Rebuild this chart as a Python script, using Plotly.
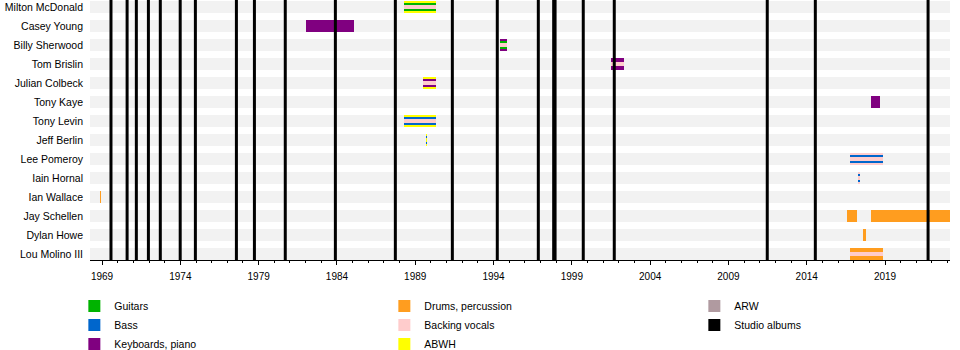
import plotly.graph_objects as go

# ---------------- data ----------------
members = ["Milton McDonald", "Casey Young", "Billy Sherwood", "Tom Brislin",
           "Julian Colbeck", "Tony Kaye", "Tony Levin", "Jeff Berlin",
           "Lee Pomeroy", "Iain Hornal", "Ian Wallace", "Jay Schellen",
           "Dylan Howe", "Lou Molino III"]

stint_member = ["Milton McDonald", "Casey Young", "Billy Sherwood", "Tom Brislin",
                "Julian Colbeck", "Tony Kaye", "Tony Levin", "Jeff Berlin",
                "Lee Pomeroy", "Iain Hornal", "Ian Wallace", "Jay Schellen",
                "Jay Schellen", "Dylan Howe", "Lou Molino III"]
stint_start = [1988.28, 1982.03, 1994.41, 2001.50, 1989.50, 2018.10, 1988.28, 1989.70,
               2016.77, 2017.30, 1968.87, 2016.55, 2018.10, 2017.57, 2016.77]
stint_end = [1990.33, 1985.09, 1994.86, 2002.33, 1990.33, 2018.68, 1990.33, 1989.75,
             2018.87, 2017.36, 1968.93, 2017.20, 2023.15, 2017.80, 2018.87]
stint_main = ["ABWH", "Keyboards, piano", "Keyboards, piano", "Keyboards, piano",
              "ABWH", "Keyboards, piano", "ABWH", "ABWH",
              "Backing vocals", "Backing vocals", "Drums, percussion", "Drums, percussion",
              "Drums, percussion", "Drums, percussion", "Drums, percussion"]
stint_stripe = ["Guitars", None, "Guitars", None,
                "Keyboards, piano", None, "Bass", "Bass",
                "Bass", "Bass", None, None,
                None, None, None]
stint_center = ["Backing vocals", None, "Backing vocals", "Backing vocals",
                "Backing vocals", None, "Backing vocals", "ABWH",
                "Backing vocals", "Backing vocals", None, None,
                None, None, "Backing vocals"]

album_dates = [1969.57, 1970.60, 1971.19, 1971.96, 1972.72, 1973.99, 1974.96,
               1977.58, 1978.73, 1980.70, 1983.90, 1987.73, 1991.37, 1994.24,
               1996.86, 1997.84, 1997.93, 1999.73, 2001.71, 2011.48, 2014.55, 2021.75]

legend_roles = ["Guitars", "Drums, percussion", "ARW",
                "Bass", "Backing vocals", "Studio albums",
                "Keyboards, piano", "ABWH"]

# ---------------- style ----------------
colors = {
    "Guitars": "#00b300",
    "Bass": "#0066cc",
    "Keyboards, piano": "#800080",
    "Drums, percussion": "#ff9d1f",
    "Backing vocals": "#ffcccc",
    "ABWH": "#ffff00",
    "ARW": "#b09aa0",
    "Studio albums": "#000000",
}
ROW_PX = 19.0
X0, X1 = 1968.23, 2023.15
Y_TOP = -7.0 / ROW_PX
Y_BOT = Y_TOP + 260.0 / ROW_PX
W_MAIN, W_STRIPE, W_CENTER = 12 / ROW_PX, 8 / ROW_PX, 4 / ROW_PX
FONT = "Liberation Sans, Arial, sans-serif"

yidx = {m: i for i, m in enumerate(members)}

fig = go.Figure()

# row background bands
fig.add_trace(go.Bar(
    orientation="h", y=list(range(len(members))),
    base=[X0] * len(members), x=[X1 - X0] * len(members),
    width=W_MAIN, marker=dict(color="#f2f2f2", line=dict(width=0)),
    showlegend=False, hoverinfo="skip"))

for layer, width in ((stint_main, W_MAIN), (stint_stripe, W_STRIPE), (stint_center, W_CENTER)):
    for role in colors:
        idx = [k for k, r in enumerate(layer) if r == role]
        if not idx:
            continue
        fig.add_trace(go.Bar(
            orientation="h",
            y=[yidx[stint_member[k]] for k in idx],
            base=[stint_start[k] for k in idx],
            x=[stint_end[k] - stint_start[k] for k in idx],
            width=width,
            marker=dict(color=colors[role], line=dict(width=0)),
            showlegend=False, hoverinfo="skip"))

# studio album lines
lx, ly = [], []
for d in album_dates:
    lx += [d, d, None]
    ly += [Y_TOP, Y_BOT, None]
fig.add_trace(go.Scatter(x=lx, y=ly, mode="lines",
                         line=dict(color="black", width=3),
                         showlegend=False, hoverinfo="skip"))

# legend entries
for role in legend_roles:
    fig.add_trace(go.Bar(orientation="h", x=[None], y=[None], name=role,
                         marker=dict(color=colors[role], line=dict(width=0)),
                         showlegend=True))

fig.update_layout(
    width=960, height=350,
    margin=dict(l=90, r=10, t=0, b=90, autoexpand=False),
    paper_bgcolor="white", plot_bgcolor="white",
    barmode="overlay", bargap=0,
    font=dict(family=FONT, size=10.5, color="black"),
    showlegend=True,
    legend=dict(orientation="h", xref="paper", yref="paper",
                x=-0.0182, xanchor="left", y=-0.1212, yanchor="top",
                entrywidth=265, entrywidthmode="pixels",
                traceorder="normal", itemwidth=30,
                font=dict(family=FONT, size=10.5),
                bgcolor="rgba(0,0,0,0)"),
    xaxis=dict(range=[X0, X1], showgrid=False, zeroline=False,
               showline=True, linecolor="black", linewidth=1,
               ticks="outside", ticklen=4, tickcolor="black", tickwidth=1,
               tick0=1969, dtick=5, tickformat="d",
               tickfont=dict(size=10), ticklabelstandoff=3,
               minor=dict(dtick=1, tick0=1969, ticks="outside", ticklen=2,
                          tickcolor="black", showgrid=False)),
    yaxis=dict(range=[Y_BOT, Y_TOP], showgrid=False, zeroline=False,
               showline=False, ticks="", ticklabeloverflow="allow",
               tickvals=list(range(len(members))), ticktext=members,
               ticklabelstandoff=6, tickfont=dict(size=10.5)),
)

fig.write_html("out.html")
